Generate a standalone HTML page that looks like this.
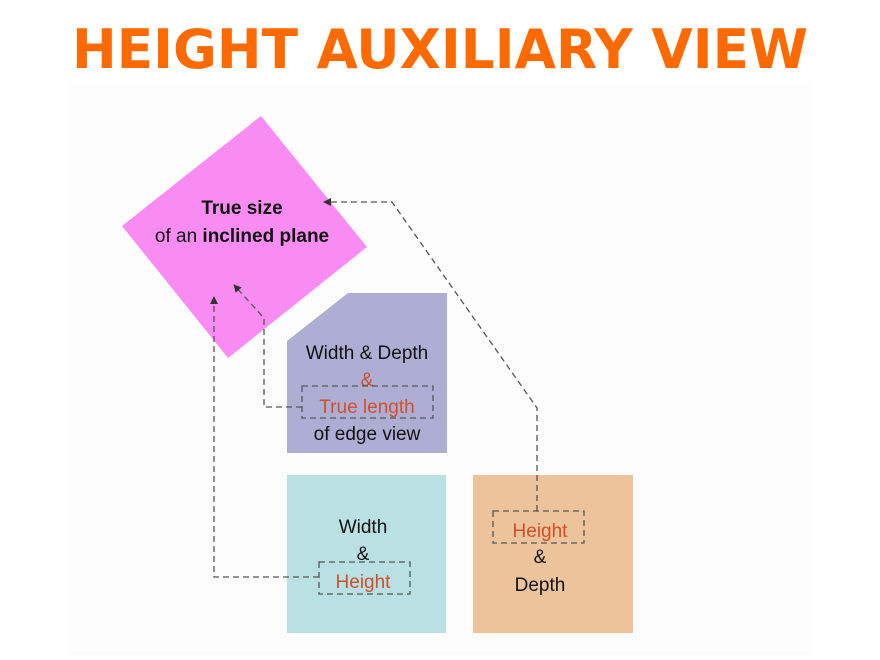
<!DOCTYPE html>
<html><head><style>body{margin:0;background:#fff}svg{display:block}</style></head><body>
<svg width="880" height="660" xmlns="http://www.w3.org/2000/svg">
<rect width="880" height="660" fill="#fff"/>
<rect x="70" y="85" width="740" height="570" fill="#fcfcfd"/>
<text x="440" y="68" text-anchor="middle" font-family="DejaVu Sans, sans-serif" font-weight="bold" font-size="54" fill="#ff6a00" textLength="736" lengthAdjust="spacingAndGlyphs">HEIGHT AUXILIARY VIEW</text>
<defs><marker id="a" markerWidth="8" markerHeight="8" refX="7" refY="4" orient="auto" markerUnits="userSpaceOnUse"><path d="M0,0 L8,4 L0,8 z" fill="#333"/></marker></defs>
<polygon points="261,116 367,247 228,358 122,226" fill="#f98cf3"/>
<polygon points="348,293 447,293 447,453 287,453 287,341" fill="#aeaed5"/>
<rect x="287" y="475" width="159" height="158" fill="#b9e0e3"/>
<rect x="473" y="475" width="160" height="158" fill="#ecc39a"/>
<g font-family="Liberation Sans, sans-serif" font-size="19" text-anchor="middle" fill="#111">
<text x="242" y="214" font-weight="bold">True size</text>
<text x="242" y="242">of an <tspan font-weight="bold">inclined plane</tspan></text>
<text x="367" y="359">Width &amp; Depth</text>
<text x="367" y="386" fill="#d0502a">&amp;</text>
<text x="367" y="413" fill="#d0502a">True length</text>
<text x="367" y="440">of edge view</text>
<text x="363" y="533">Width</text>
<text x="363" y="560">&amp;</text>
<text x="363" y="588" fill="#d0502a">Height</text>
<text x="540" y="537" fill="#d0502a">Height</text>
<text x="540" y="563">&amp;</text>
<text x="540" y="591">Depth</text>
</g>
<g fill="none" stroke="#555" stroke-width="1.3" stroke-dasharray="6,4">
<rect x="302" y="386" width="131" height="32"/>
<rect x="319" y="562" width="91" height="32"/>
<rect x="493" y="511" width="91" height="32"/>
<polyline points="302,407 264,407 264,318 234,285" marker-end="url(#a)"/>
<polyline points="319,577 214,577 214,297" marker-end="url(#a)"/>
<polyline points="537,511 537,408 392,202 324,202" marker-end="url(#a)"/>
</g>
</svg>
</body></html>
